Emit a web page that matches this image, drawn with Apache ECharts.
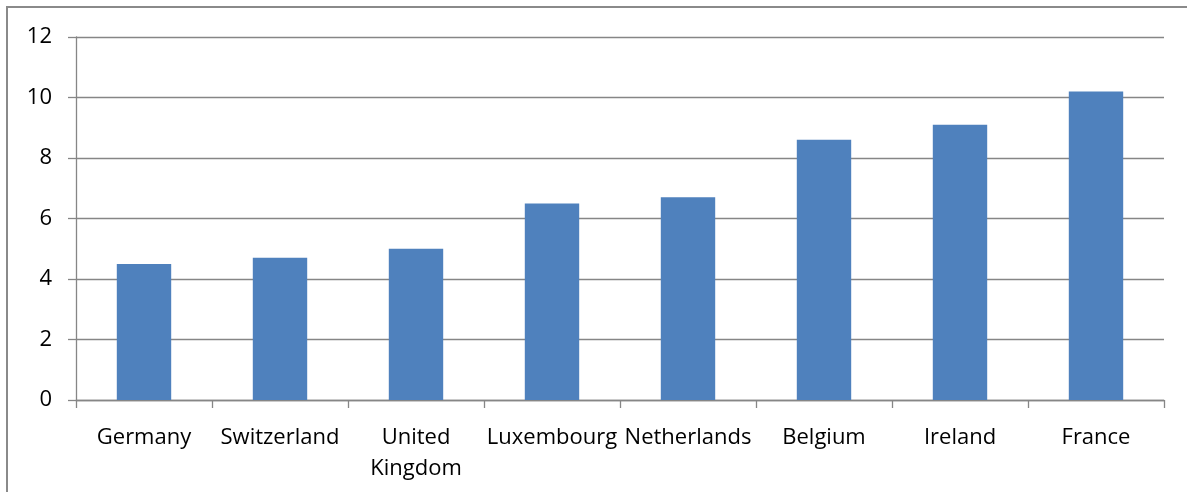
<!DOCTYPE html>
<html>
<head>
<meta charset="utf-8">
<script src="https://cdn.jsdelivr.net/npm/echarts@6/dist/echarts.min.js"></script>
<style>
html,body{margin:0;padding:0;background:#fff;}
#chart{width:1187px;height:492px;}
</style>
</head>
<body>
<div id="chart"></div>
<script>
const categories = ['Germany', 'Switzerland', 'United\nKingdom', 'Luxembourg', 'Netherlands', 'Belgium', 'Ireland', 'France'];
const values = [4.5, 4.7, 5.0, 6.5, 6.7, 8.6, 9.1, 10.2];
const yMin = 0, yMax = 12, yInterval = 2;

const chart = echarts.init(document.getElementById('chart'), null, {renderer: 'canvas'});
const axisGrey = '#868686';
const font = '"Open Sans", sans-serif';
chart.setOption({
  animation: false,
  backgroundColor: '#fff',
  graphic: [{
    type: 'rect',
    shape: {x: 7, y: 7, width: 1300, height: 700},
    style: {fill: 'none', stroke: '#8a8a8a', lineWidth: 2},
    silent: true
  }],
  grid: {left: 76, right: 23, top: 37, bottom: 92, containLabel: false},
  xAxis: {
    type: 'category',
    data: categories,
    axisLine: {lineStyle: {color: axisGrey, width: 1.3}},
    axisTick: {show: true, length: 8, lineStyle: {color: axisGrey, width: 1.3}},
    axisLabel: {interval: 0, color: '#000', fontFamily: font, fontSize: 22, margin: 22, lineHeight: 31}
  },
  yAxis: {
    type: 'value',
    min: yMin, max: yMax, interval: yInterval,
    axisLine: {show: true, lineStyle: {color: axisGrey, width: 1.3}},
    axisTick: {show: true, length: 8, lineStyle: {color: axisGrey, width: 1.3}},
    splitLine: {show: true, lineStyle: {color: axisGrey, width: 1.3}},
    axisLabel: {color: '#000', fontFamily: font, fontSize: 22, margin: 24}
  },
  series: [{
    type: 'bar',
    data: values,
    barWidth: '40%',
    itemStyle: {color: '#4F81BD'}
  }]
});
</script>
</body>
</html>
